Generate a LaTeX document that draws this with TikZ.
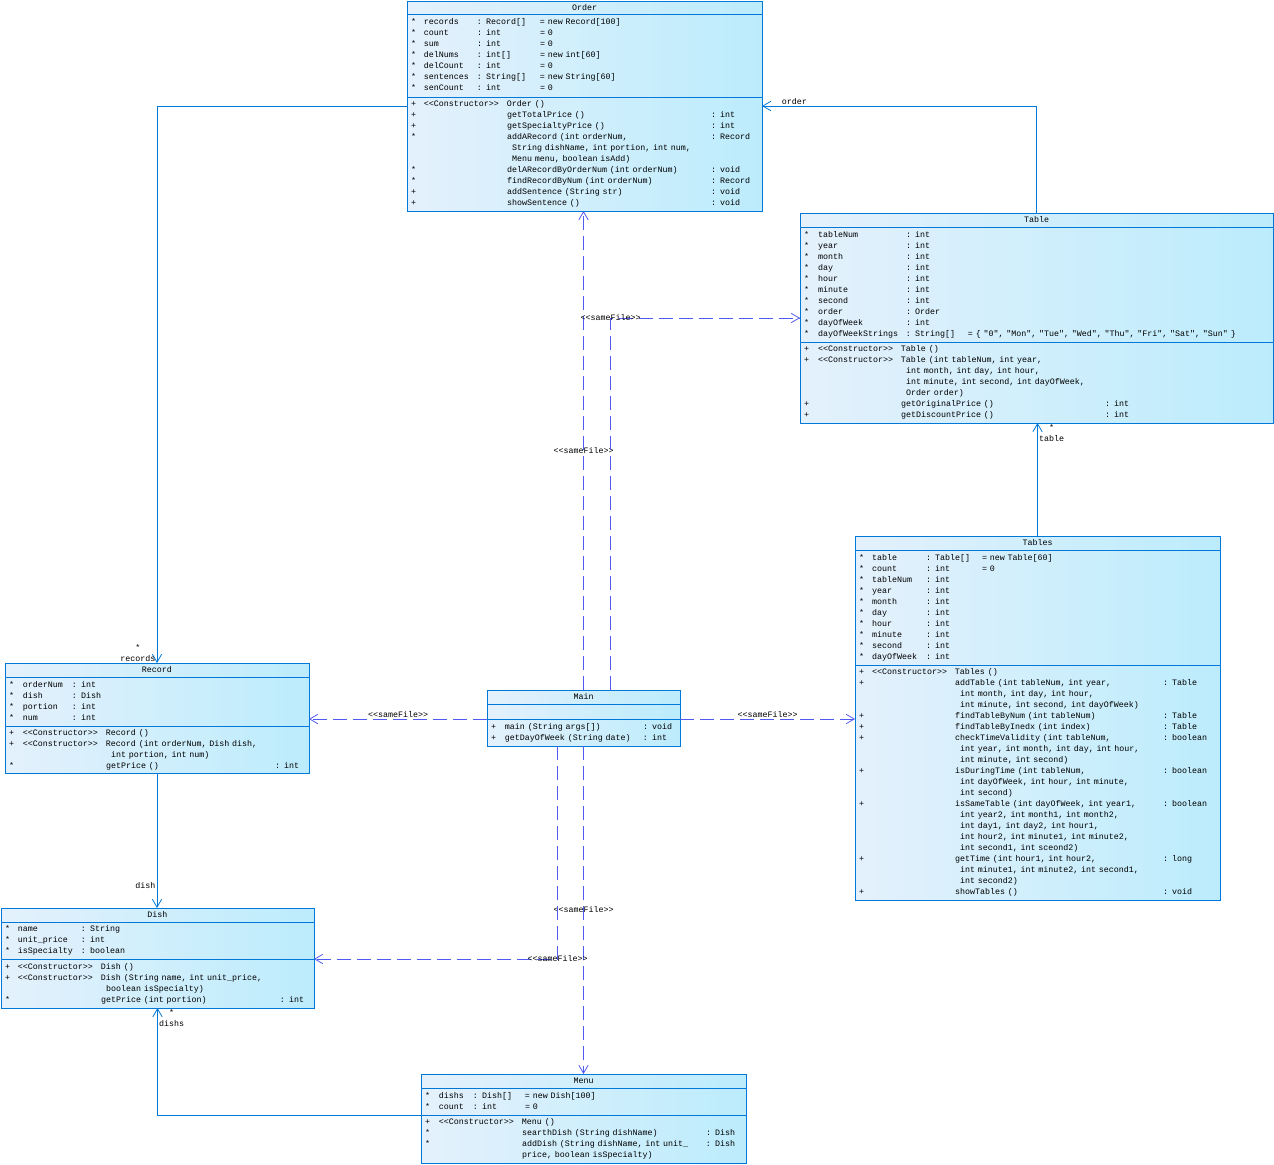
\documentclass[tikz,border=0pt]{standalone}
\usepackage{fontspec}
\usepackage{tikz}
\usetikzlibrary{arrows.meta,positioning}
\newfontfamily\umlfont{Liberation Mono}
\newcommand{\uml}{\umlfont\fontsize{6.25}{8.25}\selectfont}
\newdimen\px \px=0.75pt
\newcommand{\pkgv}{*}
\newcommand{\indt}{\hspace*{5\px}}
\setlength{\tabcolsep}{0pt}
\definecolor{umlblue}{RGB}{0,120,215}
\definecolor{umldash}{RGB}{80,90,240}
\definecolor{umlleft}{RGB}{228,241,252}
\definecolor{umlright}{RGB}{188,236,252}

\begin{document}
\begin{tikzpicture}[
  x=0.75pt, y=-0.75pt,
  cls/.style={draw=umlblue, line width=0.6pt, left color=umlleft, right color=umlright,
    outer sep=0pt, inner xsep=4\px, inner ysep=0pt, align=left, font=\uml, text width=#1},
  title/.style={cls=#1, align=center, minimum height=13\px, anchor=north west},
  assoc/.style={draw=umlblue, line width=0.6pt, -{Straight Barb[length=6pt,width=7pt]}},
  dep/.style={draw=umldash, line width=0.6pt, dash pattern=on 10.5pt off 4.5pt,
    -{Straight Barb[length=6pt,width=7pt]}},
  lbl/.style={font=\uml, inner sep=1pt}
]
\useasboundingbox (0,0) rectangle (1274,1164);

% Order
\node[title=347\px] (order) at (407,1) {Order};
\node[cls=347\px, minimum height=83\px, below=0pt of order] (order-a) {%
\begin{tabular}{@{}p{13\px}p{53\px}p{63\px}l@{}}
\pkgv & records & : Record[] & = new Record[100]\\
\pkgv & count & : int & = 0\\
\pkgv & sum & : int & = 0\\
\pkgv & delNums & : int[] & = new int[60]\\
\pkgv & delCount & : int & = 0\\
\pkgv & sentences & : String[] & = new String[60]\\
\pkgv & senCount & : int & = 0
\end{tabular}};
\node[cls=347\px, minimum height=114\px, below=0pt of order-a] (order-m) {%
\begin{tabular}{@{}p{13\px}p{83\px}p{204\px}l@{}}
+ & <<Constructor>> & Order () & \\
+ & & getTotalPrice () & : int\\
+ & & getSpecialtyPrice () & : int\\
\pkgv & & addARecord (int orderNum, & : Record\\
 & & \indt String dishName, int portion, int num, & \\
 & & \indt Menu menu, boolean isAdd) & \\
\pkgv & & delARecordByOrderNum (int orderNum) & : void\\
\pkgv & & findRecordByNum (int orderNum) & : Record\\
+ & & addSentence (String str) & : void\\
+ & & showSentence () & : void
\end{tabular}};

% Table
\node[title=465\px, minimum height=14\px] (table) at (800,213) {Table};
\node[cls=465\px, minimum height=115\px, below=0pt of table] (table-a) {%
\begin{tabular}{@{}p{14\px}p{88\px}p{62\px}l@{}}
\pkgv & tableNum & : int & \\
\pkgv & year & : int & \\
\pkgv & month & : int & \\
\pkgv & day & : int & \\
\pkgv & hour & : int & \\
\pkgv & minute & : int & \\
\pkgv & second & : int & \\
\pkgv & order & : Order & \\
\pkgv & dayOfWeek & : int & \\
\pkgv & dayOfWeekStrings & : String[] & = \{ "0", "Mon", "Tue", "Wed", "Thu", "Fri", "Sat", "Sun" \}
\end{tabular}};
\node[cls=465\px, minimum height=81\px, below=0pt of table-a] (table-m) {%
\begin{tabular}{@{}p{14\px}p{83\px}p{204\px}l@{}}
+ & <<Constructor>> & Table () & \\
+ & <<Constructor>> & Table (int tableNum, int year, & \\
 & & \indt int month, int day, int hour, & \\
 & & \indt int minute, int second, int dayOfWeek, & \\
 & & \indt Order order) & \\
+ & & getOriginalPrice () & : int\\
+ & & getDiscountPrice () & : int
\end{tabular}};

% Tables
\node[title=357\px, minimum height=14\px] (tables) at (855,536) {Tables};
\node[cls=357\px, minimum height=115\px, below=0pt of tables] (tables-a) {%
\begin{tabular}{@{}p{13\px}p{54\px}p{56\px}l@{}}
\pkgv & table & : Table[] & = new Table[60]\\
\pkgv & count & : int & = 0\\
\pkgv & tableNum & : int & \\
\pkgv & year & : int & \\
\pkgv & month & : int & \\
\pkgv & day & : int & \\
\pkgv & hour & : int & \\
\pkgv & minute & : int & \\
\pkgv & second & : int & \\
\pkgv & dayOfWeek & : int &
\end{tabular}};
\node[cls=357\px, minimum height=235\px, below=0pt of tables-a] (tables-m) {%
\begin{tabular}{@{}p{13\px}p{83\px}p{208\px}l@{}}
+ & <<Constructor>> & Tables () & \\
+ & & addTable (int tableNum, int year, & : Table\\
 & & \indt int month, int day, int hour, & \\
 & & \indt int minute, int second, int dayOfWeek) & \\
+ & & findTableByNum (int tableNum) & : Table\\
+ & & findTableByInedx (int index) & : Table\\
+ & & checkTimeValidity (int tableNum, & : boolean\\
 & & \indt int year, int month, int day, int hour, & \\
 & & \indt int minute, int second) & \\
+ & & isDuringTime (int tableNum, & : boolean\\
 & & \indt int dayOfWeek, int hour, int minute, & \\
 & & \indt int second) & \\
+ & & isSameTable (int dayOfWeek, int year1, & : boolean\\
 & & \indt int year2, int month1, int month2, & \\
 & & \indt int day1, int day2, int hour1, & \\
 & & \indt int hour2, int minute1, int minute2, & \\
 & & \indt int second1, int sceond2) & \\
+ & & getTime (int hour1, int hour2, & : long\\
 & & \indt int minute1, int minute2, int second1, & \\
 & & \indt int second2) & \\
+ & & showTables () & : void
\end{tabular}};

% Record
\node[title=296\px, minimum height=14\px] (record) at (5,663) {Record};
\node[cls=296\px, minimum height=49\px, below=0pt of record] (record-a) {%
\begin{tabular}{@{}p{14\px}p{49\px}l@{}}
\pkgv & orderNum & : int\\
\pkgv & dish & : Dish\\
\pkgv & portion & : int\\
\pkgv & num & : int
\end{tabular}};
\node[cls=296\px, minimum height=47\px, below=0pt of record-a] (record-m) {%
\begin{tabular}{@{}p{14\px}p{83\px}p{169\px}l@{}}
+ & <<Constructor>> & Record () & \\
+ & <<Constructor>> & Record (int orderNum, Dish dish, & \\
 & & \indt int portion, int num) & \\
\pkgv & & getPrice () & : int
\end{tabular}};

% Dish
\node[title=305\px, minimum height=14\px] (dish) at (1,908) {Dish};
\node[cls=305\px, minimum height=37\px, below=0pt of dish] (dish-a) {%
\begin{tabular}{@{}p{13\px}p{63\px}l@{}}
\pkgv & name & : String\\
\pkgv & unit\_price & : int\\
\pkgv & isSpecialty & : boolean
\end{tabular}};
\node[cls=305\px, minimum height=49\px, below=0pt of dish-a] (dish-m) {%
\begin{tabular}{@{}p{13\px}p{83\px}p{179\px}l@{}}
+ & <<Constructor>> & Dish () & \\
+ & <<Constructor>> & Dish (String name, int unit\_price, & \\
 & & \indt boolean isSpecialty) & \\
\pkgv & & getPrice (int portion) & : int
\end{tabular}};

% Menu
\node[title=317\px, minimum height=14\px] (menu) at (421,1074) {Menu};
\node[cls=317\px, minimum height=27\px, below=0pt of menu] (menu-a) {%
\begin{tabular}{@{}p{14\px}p{34\px}p{52\px}l@{}}
\pkgv & dishs & : Dish[] & = new Dish[100]\\
\pkgv & count & : int & = 0
\end{tabular}};
\node[cls=317\px, minimum height=48\px, below=0pt of menu-a] (menu-m) {%
\begin{tabular}{@{}p{14\px}p{83\px}p{184\px}l@{}}
+ & <<Constructor>> & Menu () & \\
\pkgv & & searthDish (String dishName) & : Dish\\
\pkgv & & addDish (String dishName, int unit\_ & : Dish\\
 & & price, boolean isSpecialty) &
\end{tabular}};

% Main
\node[title=185\px, minimum height=14\px] (main) at (487,690) {Main};
\node[cls=185\px, minimum height=15\px, below=0pt of main] (main-a) {};
\node[cls=185\px, minimum height=27\px, below=0pt of main-a] (main-m) {%
\begin{tabular}{@{}p{14\px}p{138\px}l@{}}
+ & main (String args[]) & : void\\
+ & getDayOfWeek (String date) & : int
\end{tabular}};

% associations
\draw[assoc] ([yshift=-9\px]order-m.north west) -| (record)
  node[lbl, pos=1, above left, align=center] {*\\records};
\draw[assoc] (table) |- ([yshift=-9\px]order-m.north east)
  node[lbl, pos=0.967, above right] {order};
\draw[assoc] (tables) -- (tables |- table-m.south)
  node[lbl, pos=1, below right, align=center] {*\\table};
\draw[assoc] (record-m) -- (record-m |- dish.north)
  node[lbl, pos=0.83, left] {dish};
\draw[assoc] (menu-a.south west) -| (dish-m)
  node[lbl, pos=1, below right, align=center] {*\\dishs};

% dependencies
\draw[dep] (main) -- (main |- order-m.south) node[lbl, midway] {<<sameFile>>};
\draw[dep] ([xshift=27\px]main.north) |- ([yshift=24\px]table-a.south west)
  node[lbl, pos=0.5] {<<sameFile>>};
\draw[dep] (main-a.south west) -- (record-a.east |- main-a.south)
  node[lbl, midway, above] {<<sameFile>>};
\draw[dep] (main-a.south east) -- (tables-m.west |- main-a.south)
  node[lbl, midway, above] {<<sameFile>>};
\draw[dep] (main-m) -- (main-m |- menu.north) node[lbl, midway] {<<sameFile>>};
\draw[dep] ([xshift=-26\px]main-m.south) |- (dish-a.south east)
  node[lbl, pos=0.5] {<<sameFile>>};
\end{tikzpicture}
\end{document}
